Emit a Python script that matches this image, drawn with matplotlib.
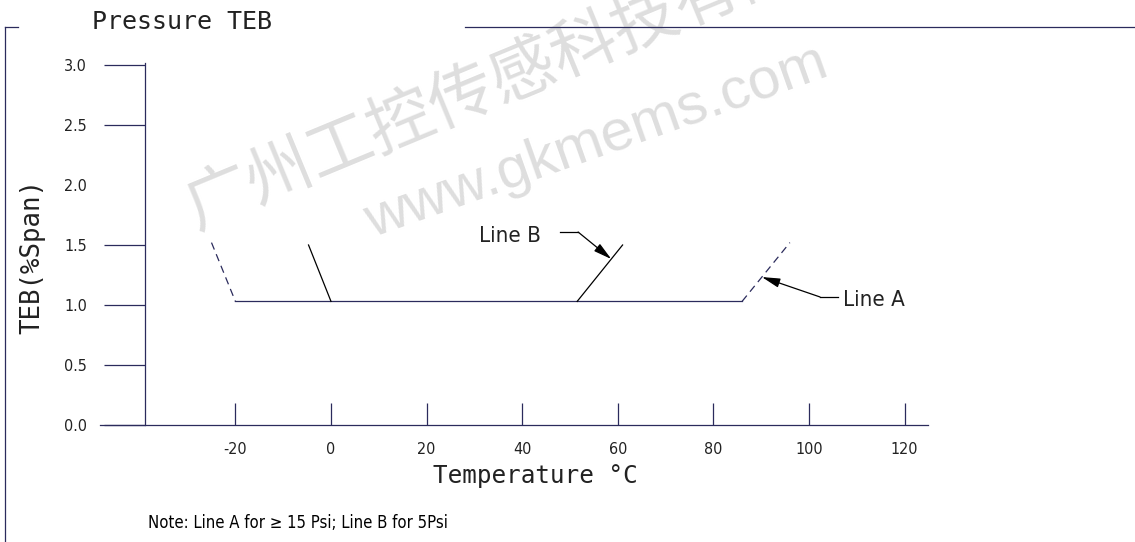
import numpy as np
import matplotlib
matplotlib.use("Agg")
import matplotlib.pyplot as plt
from matplotlib.lines import Line2D

# data
lineA_x = [-25, -20, 86, 96]
lineA_y = [1.52, 1.03, 1.03, 1.52]
lineB_x = [-4.7, 0, 51.5, 61]
lineB_y = [1.5, 1.03, 1.03, 1.5]
xticks = [-20, 0, 20, 40, 60, 80, 100, 120]
yticks = [0.0, 0.5, 1.0, 1.5, 2.0, 2.5, 3.0]
ytick_labels = ["0.0", "0.5", "1.0", "1.5", "2.0", "2.5", "3.0"]

W, H = 1135, 542
navy = "#2b2b5c"
narrow = ["Liberation Sans Narrow", "DejaVu Sans"]
cad = ["DejaVu Sans Mono", "DejaVu Sans"]
plt.rcParams["axes.unicode_minus"] = False

fig = plt.figure(figsize=(W / 100, H / 100), dpi=100)

def fx(px):
    return px / W

def fy(py):
    return 1 - py / H

# watermark
fig.text(fx(196), fy(229), "广州工控传感科技有限", fontsize=47.5, rotation=22.5,
         rotation_mode="anchor", ha="left", va="baseline", color="#dedede",
         family=["Noto Sans CJK SC", "DejaVu Sans"], zorder=-1)
fig.text(fx(372), fy(238), "www.gkmems.com", fontsize=42, rotation=19.5,
         rotation_mode="anchor", ha="left", va="baseline", color="#dedede",
         family=["Liberation Sans", "DejaVu Sans"], zorder=-1)

# axes: x px = 331 + 4.78*x, y px = 425 - 120*y
x0, x1 = (100 - 331) / 4.78, (928 - 331) / 4.78
ytop = (425 - 60) / 120
ax = fig.add_axes([fx(100), fy(425), (928 - 100) / W, (425 - 60) / H])
ax.patch.set_visible(False)
ax.set_xlim(x0, x1)
ax.set_ylim(0, ytop)

for s in ["top", "right"]:
    ax.spines[s].set_visible(False)
ax.spines["left"].set_position(("data", -39))
ax.spines["left"].set_bounds(0, 3.02)
ax.spines["bottom"].set_position(("data", 0))
for s in ["left", "bottom"]:
    ax.spines[s].set_color(navy)
    ax.spines[s].set_linewidth(0.9)

ax.set_xticks(xticks)
ax.set_yticks(yticks)
ax.set_yticklabels(ytick_labels)
ax.tick_params(axis="x", direction="in", length=16, width=0.9, color=navy, pad=12)
ax.tick_params(axis="y", direction="out", length=29.5, width=0.9, color=navy, pad=12)
for lab in ax.get_xticklabels() + ax.get_yticklabels():
    lab.set_family(narrow)
    lab.set_stretch("condensed")
    lab.set_fontsize(11.5)
    lab.set_color("#222222")
ax.yaxis.get_major_ticks()[4].tick1line.set_visible(False)

# Line A (dashed ends, solid base)
ax.plot(lineA_x[:2], lineA_y[:2], color=navy, lw=0.9, ls=(0, (6, 4)))
ax.plot(lineA_x[1:3], lineA_y[1:3], color=navy, lw=0.9)
ax.plot(lineA_x[2:], lineA_y[2:], color=navy, lw=0.9, ls=(0, (6, 4)))
# Line B
ax.plot(lineB_x[:2], lineB_y[:2], color="black", lw=0.9)
ax.plot(lineB_x[2:], lineB_y[2:], color="black", lw=0.9)

# leaders
arrow = dict(arrowstyle="-|>,head_length=1.1,head_width=0.28",
             color="black", lw=0.9, shrinkA=0, shrinkB=0)
tipB_y = 1.383
tipB_x = np.interp(tipB_y, lineB_y[2:], lineB_x[2:])
ax.plot([47.9, 51.7], [1.608, 1.608], color="black", lw=0.9)
ax.annotate("", xy=(tipB_x, tipB_y), xytext=(51.7, 1.608), arrowprops=arrow)
ax.text(43.9, 1.575, "Line B", ha="right", va="center", fontsize=16,
        family=narrow, stretch="condensed", color="#222222")

tipA_y = 1.233
tipA_x = np.interp(tipA_y, lineA_y[2:], lineA_x[2:])
ax.plot([102.3, 106.1], [1.067, 1.067], color="black", lw=0.9)
ax.annotate("", xy=(tipA_x, tipA_y), xytext=(102.3, 1.067), arrowprops=arrow)
ax.text(107.1, 1.04, "Line A", ha="left", va="center", fontsize=16,
        family=narrow, stretch="condensed", color="#222222")

# texts
fig.text(fx(92), fy(22), "Pressure TEB", ha="left", va="center", fontsize=18,
         family=cad, color="#222222")
fig.text(fx(32), fy(257), "TEB(%Span)", ha="center", va="center", rotation=90,
         fontsize=18.5, family=cad, color="#222222")
fig.text(fx(535), fy(476), "Temperature °C", ha="center", va="center",
         fontsize=17.5, family=cad, color="#222222")
fig.text(fx(148), fy(523), "Note: Line A for ≥ 15 Psi; Line B for 5Psi",
         ha="left", va="center", fontsize=12, family=narrow, stretch="condensed",
         color="black")

# drawing frame
fig.add_artist(Line2D([fx(5), fx(18)], [fy(27), fy(27)], color=navy, lw=0.9))
fig.add_artist(Line2D([fx(5), fx(5)], [fy(27), 0], color=navy, lw=0.9))
fig.add_artist(Line2D([fx(465), 1], [fy(27), fy(27)], color=navy, lw=0.9))

fig.savefig("out.png", dpi=100)
